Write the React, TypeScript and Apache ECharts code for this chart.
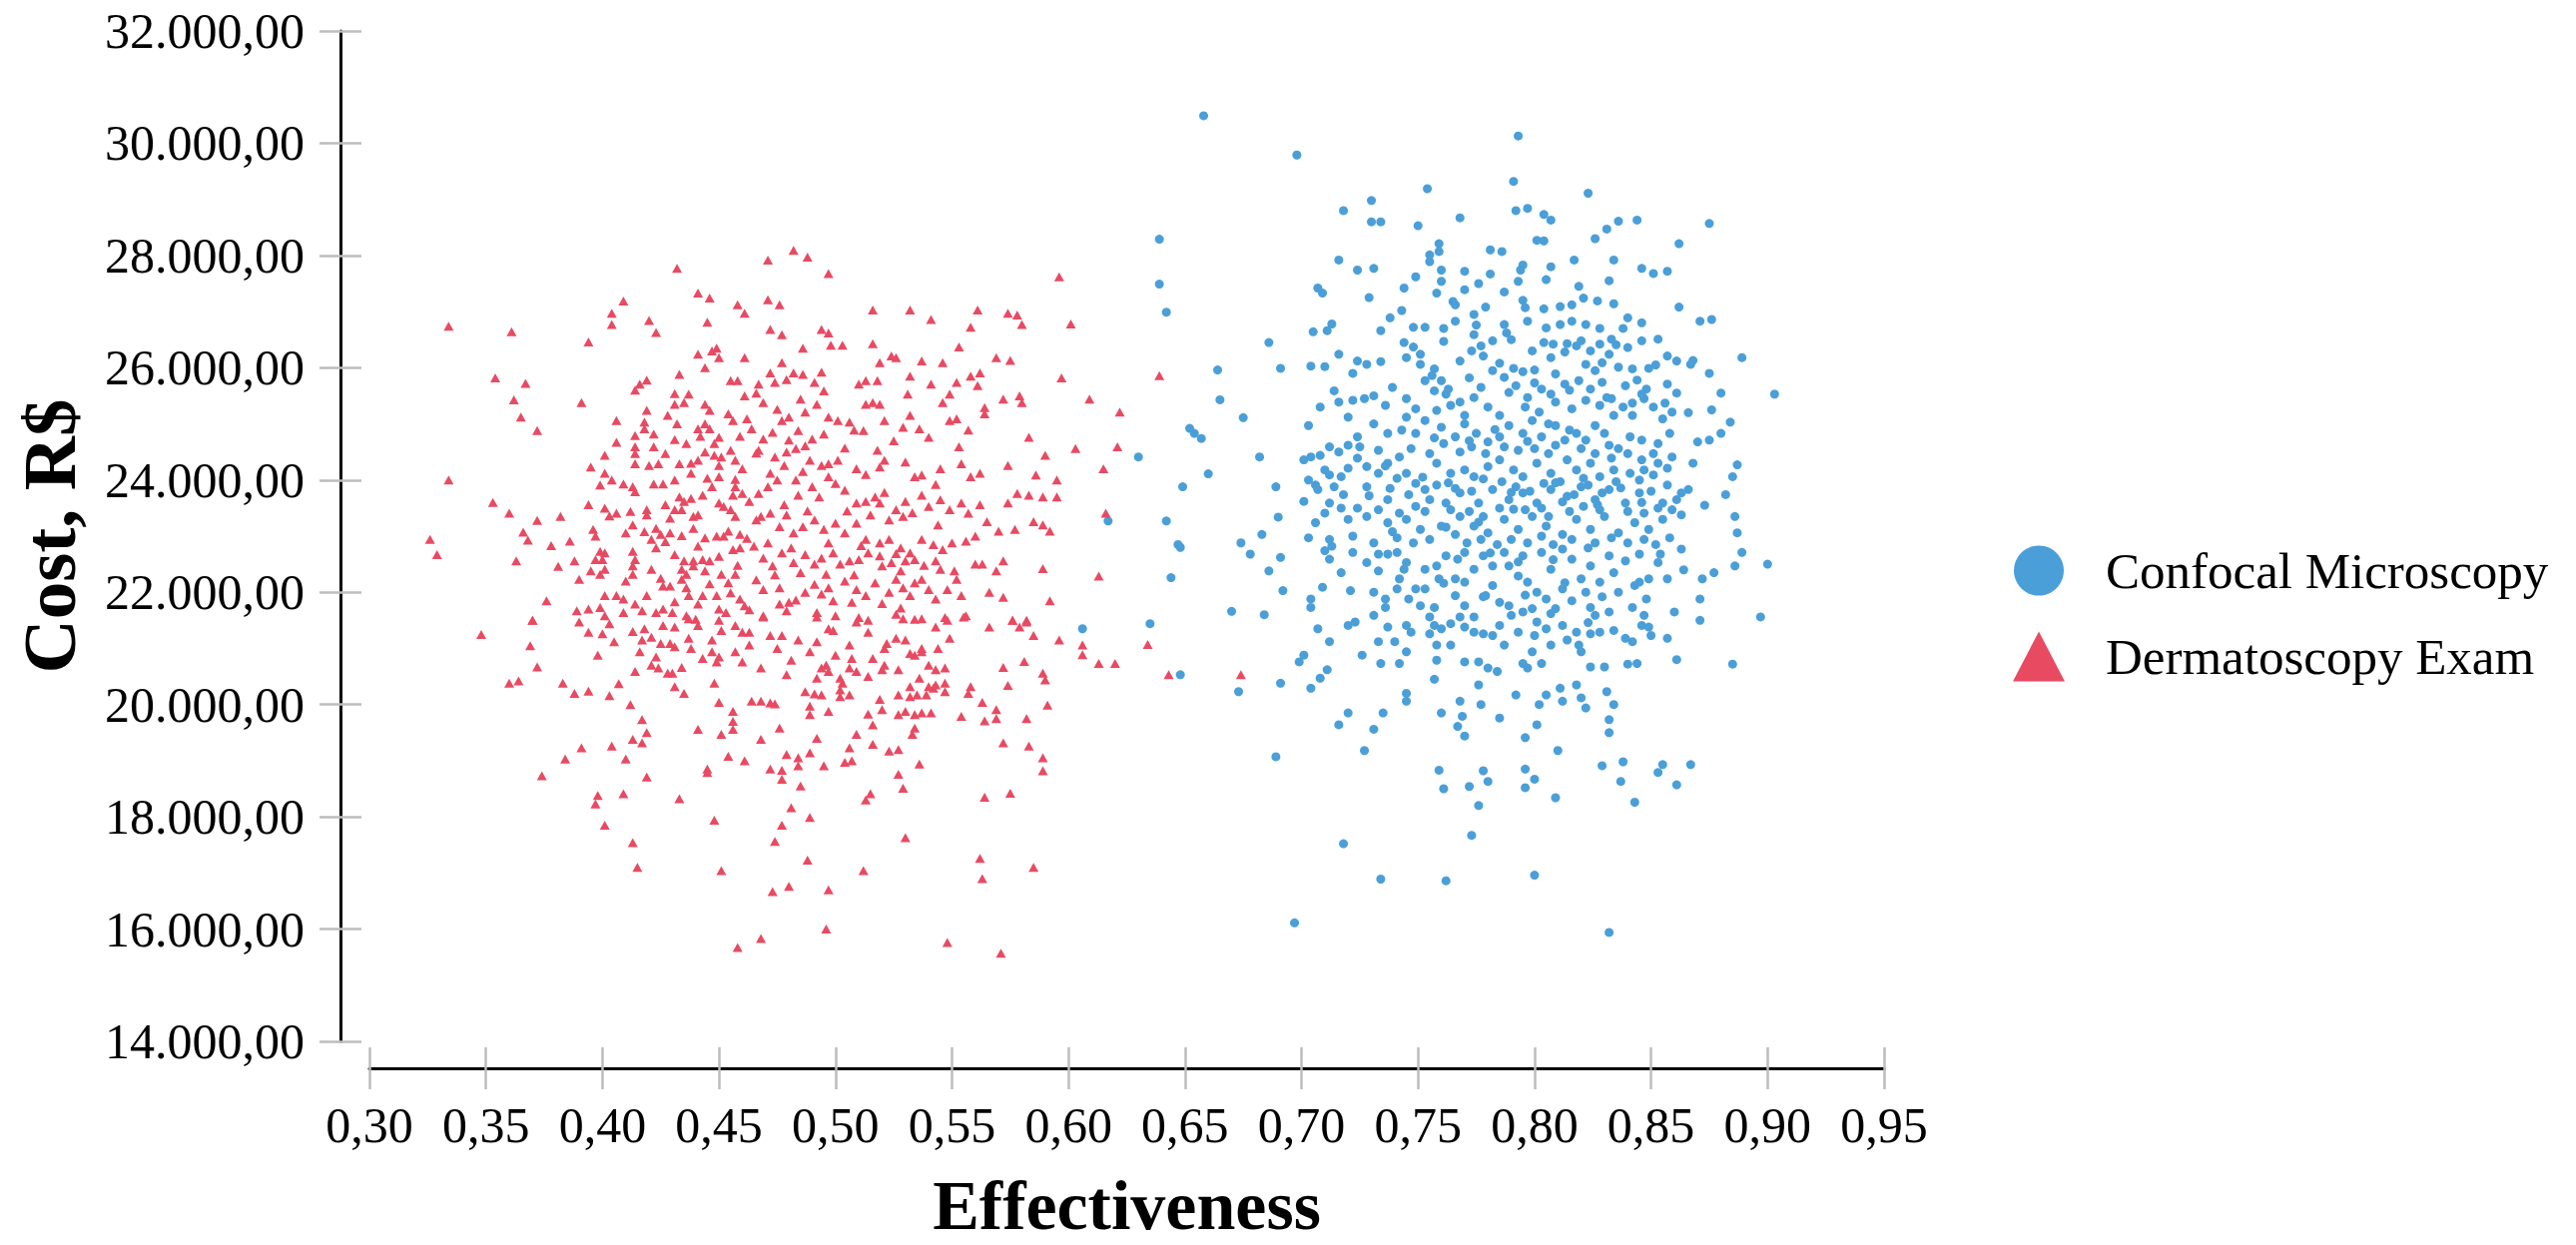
import React, { useEffect, useRef } from "react";
import * as echarts from "echarts";

// Effectiveness (x) and Cost in R$ (y).
const confocalUpper: number[][] = [
  [0.658,30490],[0.698,29790],[0.793,30130],[0.791,29320],[0.754,29190],[0.823,29110],[0.730,28980],[0.718,28800],[0.730,28600],[0.734,28600],[0.750,28530],[0.768,28670],[0.792,28800],[0.797,28840],[0.804,28730],[0.807,28630],[0.826,28300],[0.831,28470],[0.836,28610],[0.844,28630],[0.875,28570],[0.801,28270],[0.804,28260],[0.862,28210],[0.639,28290],[0.639,27490],[0.642,26990],[0.759,28210],[0.759,28070],[0.781,28100],[0.786,28070],[0.716,27920],[0.724,27740],[0.731,27770],[0.755,28010],[0.755,27890],[0.760,27740],[0.760,27540],[0.770,27720],[0.795,27830],[0.794,27740],[0.807,27800],[0.817,27920],[0.834,27920],[0.846,27770],[0.851,27680],[0.857,27720],[0.707,27420],[0.709,27330],[0.729,27250],[0.749,27620],[0.744,27420],[0.758,27330],[0.765,27180],[0.770,27390],[0.781,27670],[0.787,27350],[0.793,27540],[0.805,27570],[0.832,27550],[0.796,27070],[0.804,27050],[0.811,27090],[0.816,27120],[0.821,27240],[0.827,27190],[0.834,27140],[0.840,26890],[0.846,26800],[0.862,27080],[0.871,26830],[0.876,26860],[0.705,26640],[0.711,26660],[0.713,26780],[0.734,26660],[0.738,26890],[0.743,27020],[0.748,26720],[0.753,26720],[0.761,26700],[0.766,26830],[0.766,27120],[0.774,26950],[0.775,26760],[0.779,27080],[0.787,26770],[0.788,26620],[0.797,26830],[0.805,26710],[0.811,26770],[0.816,26830],[0.822,26770],[0.828,26700],[0.833,26510],[0.853,26510],[0.846,26480],[0.686,26450],[0.664,25960],[0.665,25430],[0.675,25110],[0.691,25990],[0.704,26030],[0.710,26020],[0.716,26240],[0.722,25900],[0.724,26120],[0.728,26060],[0.734,26110],[0.744,26450],[0.748,26370],[0.751,26240],[0.745,26180],[0.751,26060],[0.757,25980],[0.760,25770],[0.763,25620],[0.773,26300],[0.777,26390],[0.778,26210],[0.785,26080],[0.791,25990],[0.795,25930],[0.800,25960],[0.804,26450],[0.808,26420],[0.814,26430],[0.818,26390],[0.824,26300],[0.828,26420],[0.835,26410],[0.840,26360],[0.822,26060],[0.829,26090],[0.836,26010],[0.842,25980],[0.849,25990],[0.857,26210],[0.861,26120],[0.868,26130],[0.875,25900],[0.889,26180],[0.903,25530],[0.880,25550],[0.876,25250],[0.857,25710],[0.861,25550],[0.856,25370],[0.844,25780],[0.848,25620],[0.847,25450],[0.714,25590],[0.716,25390],[0.722,25420],[0.727,25450],[0.736,25330],[0.745,25120],[0.749,25270],[0.753,25770],[0.757,25590],[0.762,25530],[0.768,25390],[0.774,25470],[0.780,25300],[0.787,25830],[0.792,25680],[0.797,25470],[0.803,25620],[0.807,25530],[0.813,25710],[0.819,25770],[0.824,25620],[0.831,25470],[0.839,25680],[0.846,25530],[0.838,25300],[0.834,25150],[0.855,25090],[0.859,25210],[0.867,26060]
];

const confocalMiddle: number[][] = [
  [0.870,24680],[0.875,24710],[0.880,24830],[0.884,25030],[0.858,24830],[0.853,24650],[0.851,24470],[0.841,24770],[0.846,24710],[0.836,24560],[0.826,24970],[0.830,24830],[0.822,24710],[0.809,24970],[0.815,24890],[0.803,24770],[0.809,24620],[0.789,24970],[0.795,24830],[0.799,25060],[0.785,24770],[0.770,25000],[0.775,24830],[0.780,24680],[0.766,24770],[0.753,25060],[0.760,24940],[0.749,24830],[0.743,24890],[0.731,25000],[0.737,24830],[0.724,24770],[0.720,24620],[0.703,24970],[0.704,24410],[0.712,24590],[0.716,24500],[0.708,24440],[0.652,24920],[0.654,24830],[0.657,24740],[0.630,24410],[0.682,24410],[0.660,24110],[0.649,23880],[0.642,23270],[0.617,23270],[0.689,23880],[0.690,23340],[0.701,23620],[0.707,23830],[0.703,24000],[0.710,24180],[0.714,23880],[0.718,23740],[0.724,24390],[0.728,24240],[0.733,24120],[0.737,24300],[0.741,24030],[0.745,24120],[0.749,23940],[0.753,23830],[0.758,24300],[0.764,24120],[0.770,24180],[0.774,24060],[0.780,24240],[0.785,24360],[0.791,24180],[0.795,24060],[0.801,24300],[0.807,24120],[0.814,24360],[0.818,24180],[0.824,24300],[0.828,24060],[0.834,24180],[0.841,24120],[0.847,24180],[0.851,24090],[0.857,24210],[0.885,24060],[0.882,23740],[0.887,24270],[0.866,23830],[0.861,23650],[0.855,23590],[0.845,23770],[0.839,23590],[0.832,23830],[0.826,23650],[0.820,23880],[0.814,23710],[0.807,23830],[0.801,23590],[0.795,23770],[0.789,23650],[0.782,23830],[0.776,23590],[0.768,23770],[0.762,23590],[0.755,23650],[0.749,23530],[0.737,23650],[0.733,23470],[0.724,23500],[0.720,23300],[0.712,23590],[0.706,23240],[0.703,22970],[0.737,23240],[0.745,23300],[0.751,23120],[0.760,23180],[0.768,23350],[0.774,23180],[0.780,23060],[0.787,23300],[0.793,23120],[0.799,23350],[0.805,23180],[0.812,23030],[0.818,23300],[0.824,23120],[0.830,23350],[0.836,23060],[0.843,23240],[0.849,23120],[0.855,23300],[0.863,23380],[0.886,23350],[0.887,23060],[0.674,22880],[0.683,23030],[0.647,22850]
];

const confocalCore: number[][] = [
  [0.701,24360],[0.712,24090],[0.720,24210],[0.725,24590],[0.733,24530],[0.742,24410],[0.747,24560],[0.755,24470],[0.761,24650],[0.768,24500],[0.773,24590],[0.779,24470],[0.787,24590],[0.793,24530],[0.800,24560],[0.806,24470],[0.813,24710],[0.820,24560],[0.826,24470],[0.833,24390],[0.840,24470],[0.846,24360],[0.853,24300],[0.859,24410],
  [0.706,23910],[0.717,24060],[0.728,23880],[0.738,23850],[0.746,23740],[0.758,23910],[0.766,23850],[0.773,23800],[0.786,23970],[0.792,23880],[0.798,23800],[0.804,23940],[0.811,23970],[0.817,23740],[0.823,23910],[0.829,23770],[0.835,23970],[0.850,23800],[0.857,23910],[0.863,23770],
  [0.710,23410],[0.717,23500],[0.728,23350],[0.742,23410],[0.753,23440],[0.764,23470],[0.772,23440],[0.778,23350],[0.785,23500],[0.796,23470],[0.803,23500],[0.815,23440],[0.821,23530],[0.828,23470],[0.840,23440],[0.847,23410],[0.853,23500],[0.859,23470],
  [0.712,22940],[0.722,23000],[0.731,22880],[0.741,22970],[0.748,22880],[0.755,22940],[0.766,23030],[0.771,22880],[0.777,22940],[0.784,22850],[0.790,22940],[0.797,22880],[0.803,23000],[0.808,22850],[0.816,22940],[0.826,22880],[0.833,22970],[0.840,22880],[0.847,22940],[0.852,22850],[0.858,22970],
  [0.708,25300],[0.720,25120],[0.731,25500],[0.739,25650],[0.745,25450],[0.758,25240],[0.764,25330],[0.770,25150],[0.777,25650],[0.785,25150],[0.796,25300],[0.802,25210],[0.809,25390],[0.816,25270],[0.822,25420],[0.828,25330],[0.833,25450],[0.842,25150],[0.851,25300],
  [0.774,26590],[0.782,26480],[0.799,26300],[0.807,26180],[0.820,26480],[0.832,26240],[0.768,26120],[0.782,25950],[0.809,25890],[0.826,25950],
  [0.752,24050],[0.763,23950],[0.778,24020],[0.790,23780],[0.809,23950],[0.821,24030],[0.837,23860],[0.845,24000],[0.757,24750],[0.772,24700],[0.783,24900],[0.797,24690],[0.806,25000],[0.818,24830],[0.832,24620],[0.762,23160],[0.776,23250],[0.791,23480],[0.806,23350],[0.812,23610],[0.827,23560],[0.846,23600],[0.767,22590],[0.781,22700],[0.793,22540],[0.808,22580],[0.823,22790],[0.839,22560],[0.854,22680],[0.756,25860],[0.772,25820],[0.789,25560],[0.800,25730],[0.815,25600],[0.829,25740],[0.842,25370],[0.736,24250],[0.729,23720],[0.739,23080],[0.744,22410],[0.761,22160],[0.778,21920],[0.796,21950],[0.813,22170],[0.829,21920],[0.845,22180],[0.757,21730],[0.774,21560],[0.789,21760],[0.805,21350],[0.823,21460],[0.761,26470],[0.790,26500],[0.813,26280],[0.795,27200],[0.776,27500],[0.819,27450],[0.838,26700],[0.852,26050],[0.866,25200],[0.868,24300],[0.873,23550],[0.864,22400],[0.861,20800],[0.818,20350],[0.792,20170],[0.757,20450]
];

const confocalLower: number[][] = [
  [0.648,22800],[0.644,22260],[0.678,22680],[0.691,22620],[0.686,22380],[0.692,22030],[0.670,21660],[0.684,21600],[0.635,21440],[0.606,21350],[0.648,20530],[0.673,20230],[0.691,20380],[0.704,20290],[0.708,20470],[0.711,20620],[0.712,21120],[0.707,21350],[0.699,20760],[0.701,20880],[0.704,21880],[0.704,21730],[0.709,22090],[0.721,22030],[0.720,21410],[0.723,21470],[0.712,22590],[0.717,22350],[0.710,22740],[0.713,22820],[0.731,21590],[0.737,21380],[0.740,21120],[0.745,20940],[0.726,20880],[0.734,20730],[0.742,20730],[0.733,22380],[0.737,22680],[0.741,22710],[0.733,22680],[0.742,22240],[0.741,22060],[0.746,21880],[0.749,22060],[0.736,21880],[0.736,21730],[0.745,21410],[0.747,21290],[0.755,21560],[0.757,21410],[0.755,21260],[0.758,21060],[0.760,21350],[0.764,21440],[0.768,21560],[0.770,21380],[0.774,21290],[0.778,21260],[0.764,21060],[0.758,20790],[0.770,20760],[0.776,20760],[0.780,20650],[0.784,20590],[0.795,20730],[0.797,20650],[0.803,20730],[0.824,20670],[0.830,20670],[0.840,20720],[0.844,20730],[0.799,20940],[0.800,21230],[0.790,21590],[0.795,21650],[0.801,21470],[0.807,21620],[0.812,21410],[0.818,21290],[0.814,21150],[0.820,20940],[0.819,21060],[0.824,21260],[0.828,21290],[0.834,21320],[0.839,21180],[0.842,21120],[0.846,21410],[0.850,21230],[0.849,21380],[0.826,21590],[0.824,21730],[0.816,21850],[0.822,22000],[0.842,21730],[0.847,21590],[0.848,21880],[0.860,21650],[0.871,21500],[0.871,21880],[0.872,22240],[0.877,22350],[0.886,22470],[0.889,22710],[0.900,22500],[0.897,21560],[0.885,20720],[0.857,22240],[0.853,22530],[0.845,22680],[0.863,22770],[0.834,22350],[0.828,22180],[0.824,22470],[0.816,22590],[0.807,22410],[0.812,22060],[0.805,21880],[0.801,22000],[0.793,22290],[0.789,22470],[0.782,22120],[0.779,21940],[0.774,22410],[0.770,22180],[0.766,21940],[0.766,22240],[0.762,22650],[0.753,22410],[0.759,22240],[0.753,22060],[0.751,21760],[0.770,22710],[0.778,22650],[0.787,22710],[0.795,22650],[0.803,22710],[0.812,22770],[0.836,22000],[0.843,22120],[0.832,21650],[0.799,21710],[0.785,21410],[0.782,21230],[0.793,21290],[0.776,20350],[0.777,20000],[0.785,19760],[0.802,20000],[0.801,19640],[0.796,19410],[0.805,20170],[0.811,20290],[0.812,20060],[0.820,20120],[0.822,19940],[0.831,20230],[0.834,20000],[0.832,19730],[0.832,19500],[0.810,19180],[0.768,20060],[0.769,19790],[0.767,19610],[0.770,19440],[0.760,19850],[0.745,20200],[0.745,20060],[0.720,19850],[0.735,19850],[0.716,19640],[0.731,19560],[0.727,19180],[0.689,19070],[0.759,18830],[0.761,18500],[0.772,18540],[0.776,18200],[0.778,18820],[0.780,18630],[0.796,18850],[0.800,18670],[0.796,18520],[0.809,18340],[0.829,18910],[0.838,18980],[0.837,18630],[0.843,18260],[0.853,18790],[0.855,18930],[0.867,18930],[0.861,18570],[0.773,17670],[0.718,17520],[0.734,16890],[0.762,16860],[0.800,16960],[0.697,16110],[0.832,15940],
  [0.722,22710],[0.728,22530],[0.745,22530],[0.758,22470],[0.782,22470],[0.797,22180],[0.820,22240],[0.832,22650],[0.849,22240],[0.731,22000],[0.770,21760],[0.785,21820],[0.809,21710],[0.857,21180],[0.787,21060],[0.807,21060],[0.733,21120]
];

const dermatoscopyUpperLeft: number[][] = [
  [0.432,27770],[0.409,27190],[0.404,26970],[0.404,26770],[0.420,26840],[0.423,26630],[0.441,27330],[0.446,27240],[0.445,26810],[0.458,27120],[0.461,26970],[0.334,26740],[0.361,26640],[0.394,26460],[0.354,25820],[0.367,25720],[0.362,25430],[0.365,25120],[0.372,24880],[0.391,25380],[0.406,25060],[0.334,24000],[0.353,23600],[0.360,23410],[0.372,23280],[0.382,23350],[0.366,23070],[0.368,22930],[0.378,22830],[0.386,22910],[0.326,22940],[0.329,22670],[0.363,22560],[0.381,22460],[0.388,22560],[0.390,22230],[0.376,21850],[0.370,21500],
  [0.449,26350],[0.447,26300],[0.450,26180],[0.441,26240],[0.444,26000],[0.461,26180],[0.433,25880],[0.455,25770],[0.458,25770],[0.461,25500],[0.416,25710],[0.419,25780],[0.414,25600],[0.431,25540],[0.437,25530],[0.431,25350],[0.435,25380],[0.444,25350],[0.446,25240],[0.419,25240],[0.454,25180],[0.456,25060],[0.418,25030],[0.418,24910],[0.432,25000],[0.441,24910],[0.444,25000],[0.446,24910],[0.450,24760],[0.448,24650],[0.459,24780],[0.414,24790],[0.414,24590],[0.422,24820],[0.422,24590],[0.431,24720],[0.436,24650],[0.444,24500],[0.448,24440],[0.441,24350],[0.401,24440],[0.414,24470],[0.414,24290],[0.420,24260],[0.424,24290],[0.433,24290],[0.438,24300],[0.451,24410],[0.450,24260],[0.457,24350],[0.460,24200],[0.395,24230],[0.401,24120],[0.399,23910],[0.404,24000],[0.409,23930],[0.413,23880],[0.414,23790],[0.422,23930],[0.426,23930],[0.431,24000],[0.445,24030],[0.450,24060],[0.457,23880],[0.460,23760],[0.456,23730],[0.433,23700],[0.435,23620],[0.438,23670],[0.431,23470],[0.434,23470],[0.443,23730],[0.450,23590],[0.394,23560],[0.401,23500],[0.406,23410],[0.403,23360],[0.412,23440],[0.419,23470],[0.419,23380],[0.429,23320],[0.439,23350],[0.441,23380],[0.455,23470],[0.457,23350],[0.396,23120],[0.397,23000],[0.410,23060],[0.413,23200],[0.423,23140],[0.425,23030],[0.429,23060],[0.434,23010],[0.439,23140],[0.444,22970],[0.449,23000],[0.452,23000],[0.454,23090],[0.459,23030],[0.399,22730],[0.401,22700],[0.400,22580],[0.397,22580],[0.413,22730],[0.414,22580],[0.423,22790],[0.421,22940],[0.431,22670],[0.435,22560],[0.439,22560],[0.443,22580],[0.446,22560],[0.450,22640],[0.456,22760],[0.459,22790],[0.395,22380],[0.399,22320],[0.401,22410],[0.413,22470],[0.413,22320],[0.421,22410],[0.434,22410],[0.436,22320],[0.439,22470],[0.444,22380],[0.451,22320],[0.454,22170],[0.457,22320],[0.401,21940],[0.409,21880],[0.406,21940],[0.426,22110],[0.429,22110],[0.434,22230],[0.436,22080],[0.419,21940],[0.414,21790],[0.437,21940],[0.441,21790],[0.443,21940],[0.449,21940],[0.450,21700],[0.453,21640],[0.459,21880],[0.461,21760],[0.389,21670],[0.394,21700],[0.399,21730],[0.401,21580],[0.409,21640],[0.417,21670],[0.423,21640],[0.426,21700],[0.430,21640],[0.436,21580],[0.440,21520]
];

const dermatoscopyUpperRight: number[][] = [
  [0.471,27920],[0.482,28090],[0.488,27970],[0.497,27680],[0.596,27620],[0.471,27210],[0.476,27120],[0.516,27030],[0.532,27030],[0.541,26860],[0.561,27030],[0.574,26970],[0.578,26940],[0.580,26770],[0.601,26780],[0.472,26680],[0.477,26590],[0.494,26680],[0.497,26620],[0.498,26400],[0.503,26400],[0.486,26350],[0.516,26430],[0.558,26720],[0.553,26370],[0.524,26210],[0.526,26180],[0.519,26090],[0.537,26120],[0.546,26090],[0.569,26180],[0.575,26130],[0.597,25820],[0.477,26090],[0.472,25910],[0.482,25910],[0.486,25880],[0.467,25710],[0.474,25740],[0.479,25790],[0.491,25740],[0.495,25590],[0.510,25710],[0.513,25770],[0.518,25770],[0.532,25850],[0.541,25710],[0.549,25530],[0.552,25740],[0.558,25850],[0.562,25910],[0.561,25680],[0.572,25440],[0.579,25500],[0.580,25380],[0.609,25440],[0.622,25210],[0.469,25380],[0.475,25260],[0.477,25060],[0.480,25120],[0.485,25440],[0.487,25210],[0.497,25120],[0.501,25060],[0.506,25030],[0.508,24890],[0.512,24880],[0.513,25350],[0.516,25380],[0.519,25350],[0.529,24940],[0.532,25150],[0.536,24910],[0.540,24760],[0.546,25380],[0.549,25060],[0.552,25090],[0.557,24890],[0.564,25290],[0.564,25180],[0.583,24760],[0.464,24910],[0.469,24730],[0.473,24850],[0.480,24710],[0.484,24880],[0.490,24730],[0.495,24820],[0.467,24530],[0.474,24410],[0.479,24500],[0.483,24560],[0.489,24350],[0.494,24260],[0.497,24290],[0.501,24350],[0.509,24200],[0.518,24530],[0.521,24350],[0.519,24230],[0.530,24320],[0.534,24060],[0.537,24090],[0.553,24590],[0.554,24290],[0.558,24060],[0.562,24120],[0.574,24260],[0.590,24440],[0.603,24560],[0.621,24590],[0.615,24200],[0.586,24090],[0.595,24000],[0.578,23760],[0.583,23730],[0.589,23700],[0.595,23700],[0.574,23590],[0.616,23410],[0.472,24120],[0.475,24000],[0.471,23880],[0.467,23760],[0.483,24000],[0.490,23880],[0.484,23730],[0.497,24060],[0.500,23940],[0.504,23820],[0.509,23590],[0.513,23620],[0.517,23700],[0.519,23590],[0.526,23470],[0.529,23350],[0.523,23290],[0.530,23620],[0.537,23730],[0.540,23530],[0.545,23650],[0.549,23470],[0.554,23590],[0.557,23410],[0.562,23560],[0.565,23260],[0.570,23090],[0.577,23120],[0.585,23260],[0.589,23200],[0.592,23090],[0.466,23290],[0.472,23410],[0.476,23170],[0.479,23380],[0.482,23060],[0.486,23170],[0.491,23290],[0.495,23120],[0.500,23230],[0.504,23060],[0.509,23230],[0.513,22940],[0.519,22880],[0.523,22940],[0.528,22790],[0.532,22700],[0.537,22940],[0.542,22850],[0.546,22760],[0.550,22880],[0.556,22910],[0.560,23000],[0.465,22820],[0.469,22610],[0.473,22470],[0.477,22700],[0.482,22530],[0.487,22670],[0.491,22500],[0.494,22610],[0.499,22700],[0.502,22500],[0.506,22560],[0.510,22580],[0.514,22700],[0.520,22470],[0.524,22530],[0.528,22380],[0.530,22560],[0.534,22580],[0.543,22560],[0.545,22410],[0.560,22500],[0.563,22500],[0.569,22380],[0.572,22560],[0.589,22420],[0.613,22290],[0.469,22050],[0.476,22080],[0.480,21820],[0.476,21790],[0.487,22000],[0.491,22140],[0.494,21970],[0.499,21850],[0.504,22200],[0.509,22050],[0.513,21940],[0.517,22170],[0.523,22000],[0.526,22230],[0.529,22080],[0.532,21940],[0.534,22170],[0.537,22230],[0.543,21880],[0.548,22050],[0.552,22230],[0.554,21940],[0.566,22000],[0.572,21910],[0.592,21850],[0.469,21580],[0.479,21670],[0.492,21640],[0.500,21580],[0.510,21550],[0.526,21610],[0.534,21520],[0.547,21550],[0.556,21580],[0.576,21500],[0.582,21500],
  [0.634,21070],[0.643,20530],[0.674,20530],[0.639,25860]
];

const dermatoscopyCore: number[][] = [
  [0.427,24470],[0.438,24120],[0.447,23880],[0.452,23530],[0.463,23620],[0.468,23350],[0.478,23560],[0.488,23450],[0.493,23700],[0.505,23450],[0.515,23380],[0.521,23780],[0.533,23420],[0.544,23200],[0.427,22900],[0.441,22820],[0.462,22960],[0.471,22880],[0.481,22790],[0.497,22880],[0.511,22830],[0.526,22690],[0.538,22480],[0.551,22380],[0.425,22250],[0.446,22150],[0.458,22480],[0.466,22220],[0.474,22310],[0.485,22350],[0.496,22320],[0.508,22310],[0.519,22650],[0.540,22050],[0.431,21830],[0.455,21990],[0.463,21690],[0.483,21860],[0.497,22080],[0.507,21820],[0.520,21800],[0.528,21720],[0.442,24780],[0.455,24530],[0.466,24480],[0.478,24260],[0.487,24610],[0.504,24570],[0.513,24100],[0.525,24700],[0.428,25150],[0.462,25090],[0.492,25350],[0.521,25060],[0.545,24200],[0.457,24010],[0.486,24150],[0.543,23920],[0.410,22200],[0.418,23080],[0.406,24670],[0.427,23560],[0.466,25550],[0.494,25920],[0.531,25530]
];

const dermatoscopyLowerLeft: number[][] = [
  [0.348,21250],[0.370,21500],[0.369,21050],[0.372,20670],[0.360,20380],[0.364,20420],[0.383,20380],[0.388,20200],[0.394,20240],[0.403,20160],[0.407,20370],[0.390,21470],[0.394,21290],[0.400,21260],[0.405,21120],[0.403,21440],[0.398,20880],[0.413,21300],[0.418,21350],[0.421,21200],[0.417,21150],[0.416,20940],[0.425,21090],[0.429,21090],[0.431,21030],[0.423,20850],[0.421,20700],[0.424,20650],[0.414,20590],[0.428,20560],[0.430,20560],[0.434,20660],[0.431,20320],[0.435,20200],[0.437,21180],[0.438,21000],[0.443,20820],[0.447,20940],[0.449,20760],[0.450,20850],[0.447,21150],[0.451,21320],[0.457,20940],[0.460,20760],[0.441,21410],[0.437,21530],[0.450,21500],[0.460,21290],[0.457,21410],[0.426,21410],[0.431,21380],[0.448,20380],[0.450,20040],[0.456,19880],[0.456,19700],[0.456,19560],[0.451,19470],[0.441,19560],[0.454,19080],[0.461,19000],[0.445,18850],[0.445,18790],[0.412,20000],[0.417,19730],[0.419,19500],[0.417,19320],[0.413,19380],[0.391,19230],[0.404,19260],[0.384,19030],[0.410,19030],[0.374,18730],[0.419,18710],[0.398,18380],[0.397,18230],[0.409,18410],[0.433,18320],[0.401,17850],[0.448,17940],[0.413,17540],[0.415,17100],[0.451,17040],[0.458,15670]
];

const dermatoscopyLowerRight: number[][] = [
  [0.606,21060],[0.606,20890],[0.613,20730],[0.620,20730],[0.596,21150],[0.581,20770],[0.572,20660],[0.589,20560],[0.590,20440],[0.574,20340],[0.591,19990],[0.582,19750],[0.583,19260],[0.589,19050],[0.589,18820],[0.572,19320],[0.564,19710],[0.569,19750],[0.569,19910],[0.563,20040],[0.554,19790],[0.558,20320],[0.557,20200],[0.564,18350],[0.575,18420],[0.562,17260],[0.563,16900],[0.585,17100],[0.548,15760],[0.571,15570],[0.536,18940],[0.527,18760],[0.529,18510],[0.530,17630],[0.512,17040],[0.515,18410],[0.513,18300],[0.496,16000],[0.468,15830],[0.497,16700],[0.488,17230],[0.473,16670],[0.480,16760],[0.474,17560],[0.477,17850],[0.489,17990],[0.481,18160],[0.485,18550],[0.472,18850],[0.477,18830],[0.477,18670],[0.468,19380],[0.476,19580],[0.492,19400],[0.479,19110],[0.484,19050],[0.484,18910],[0.489,19140],[0.495,18910],[0.504,18970],[0.507,19000],[0.506,19230],[0.516,19290],[0.523,19170],[0.527,19200],[0.509,19470],[0.516,19640],[0.533,19470],[0.534,19580],[0.497,19880],[0.489,19820],[0.489,19970],[0.468,20060],[0.464,20060],[0.472,20030],[0.474,20010],[0.487,20230],[0.491,20190],[0.494,20170],[0.502,20260],[0.506,20170],[0.502,20140],[0.514,19830],[0.520,19910],[0.519,20090],[0.527,20170],[0.532,20140],[0.535,20170],[0.539,20170],[0.542,20290],[0.547,20230],[0.527,19820],[0.530,19880],[0.534,19820],[0.537,19850],[0.541,19850],[0.532,20320],[0.536,20470],[0.540,20320],[0.543,20350],[0.547,20380],[0.468,20650],[0.479,20530],[0.492,20470],[0.497,20590],[0.503,20380],[0.502,20470],[0.506,20650],[0.509,20590],[0.514,20500],[0.520,20620],[0.527,20620],[0.534,20880],[0.537,20940],[0.540,20700],[0.543,20620],[0.547,20650],[0.472,21230],[0.477,21230],[0.475,21000],[0.481,20790],[0.484,21150],[0.489,20940],[0.492,21120],[0.494,20650],[0.496,20700],[0.500,20880],[0.497,21350],[0.499,21320],[0.506,21060],[0.507,20820],[0.514,21290],[0.516,20820],[0.521,20700],[0.522,21090],[0.526,21180],[0.530,21150],[0.521,21000],[0.532,20910],[0.537,21000],[0.544,21000],[0.549,21180],[0.509,21470],[0.514,21500],[0.529,21530],[0.537,21530],[0.543,21380],[0.548,21500],[0.566,21380],[0.576,21500],[0.579,21380],[0.582,21470],[0.585,21230],[0.555,21560],[0.492,21560],[0.469,21560],[0.463,21060],[0.463,21290]
];

const seriesNames = ["Confocal Microscopy", "Dermatoscopy Exam"];
const effTicks = { min: 0.3, max: 0.95, step: 0.05 };
const costTicks = { min: 14000, max: 32000, step: 2000 };

const FONT = '"Liberation Serif", "Times New Roman", serif';
const BLUE = "#4b9fd8";
const RED = "#e84a62";

const fmtEff = (v: number) => v.toFixed(2).replace(".", ",");
const fmtCost = (v: number) =>
  Math.round(v).toString().replace(/\B(?=(\d{3})+(?!\d))/g, ".") + ",00";

export default function App() {
  const ref = useRef<HTMLDivElement>(null);

  useEffect(() => {
    if (!ref.current) return;
    const chart = echarts.init(ref.current, undefined, { renderer: "svg" });

    const tickStyle = { color: "#bdbdbd", width: 2.5 };
    const baseX = {
      type: "value",
      min: effTicks.min,
      max: effTicks.max,
      interval: effTicks.step,
      position: "bottom",
      offset: 27,
      splitLine: { show: false },
    };
    const baseY = {
      type: "value",
      min: costTicks.min,
      max: costTicks.max,
      interval: costTicks.step,
      position: "left",
      offset: 29,
      splitLine: { show: false },
    };

    chart.setOption({
      animation: false,
      backgroundColor: "#ffffff",
      textStyle: { fontFamily: FONT },
      grid: { left: 370, right: 693, top: 31, bottom: 198, containLabel: false },
      legend: {
        orient: "vertical",
        left: 2011,
        top: 541,
        itemWidth: 52,
        itemHeight: 50,
        itemGap: 35,
        selectedMode: false,
        textStyle: {
          fontSize: 51,
          lineHeight: 50,
          color: "#000",
          fontFamily: FONT,
          padding: [0, 0, 0, 36],
        },
        data: [
          { name: seriesNames[0], icon: "circle" },
          { name: seriesNames[1], icon: "triangle" },
        ],
      },
      xAxis: [
        {
          ...baseX,
          name: "Effectiveness",
          nameLocation: "middle",
          nameGap: 102,
          nameTextStyle: { fontSize: 70, fontWeight: "bold", color: "#000", fontFamily: FONT },
          axisLine: { show: true, lineStyle: { color: "#000", width: 3 } },
          axisTick: { show: true, inside: false, length: 21, lineStyle: tickStyle },
          axisLabel: { show: true, formatter: fmtEff, fontSize: 50, color: "#000", fontFamily: FONT, margin: 32 },
        },
        {
          ...baseX,
          axisLine: { show: false },
          axisTick: { show: true, inside: true, length: 21, lineStyle: tickStyle },
          axisLabel: { show: false },
        },
      ],
      yAxis: [
        {
          ...baseY,
          name: "Cost, R$",
          nameLocation: "middle",
          nameRotate: 90,
          nameGap: 254,
          nameTextStyle: { fontSize: 75, fontWeight: "bold", color: "#000", fontFamily: FONT },
          axisLine: { show: true, lineStyle: { color: "#000", width: 3 } },
          axisTick: { show: true, inside: false, length: 21, lineStyle: tickStyle },
          axisLabel: { show: true, formatter: fmtCost, fontSize: 50, color: "#000", fontFamily: FONT, margin: 36 },
        },
        {
          ...baseY,
          axisLine: { show: false },
          axisTick: { show: true, inside: true, length: 21, lineStyle: tickStyle },
          axisLabel: { show: false },
        },
      ],
      series: [
        {
          name: seriesNames[0],
          type: "scatter",
          xAxisIndex: 0,
          yAxisIndex: 0,
          symbol: "circle",
          symbolSize: 9,
          itemStyle: { color: BLUE, opacity: 1 },
          data: [...confocalUpper, ...confocalMiddle, ...confocalCore, ...confocalLower],
        },
        {
          name: seriesNames[1],
          type: "scatter",
          xAxisIndex: 0,
          yAxisIndex: 0,
          symbol: "triangle",
          symbolSize: [10, 9],
          itemStyle: { color: RED, opacity: 1 },
          data: [
            ...dermatoscopyUpperLeft,
            ...dermatoscopyUpperRight,
            ...dermatoscopyCore,
            ...dermatoscopyLowerLeft,
            ...dermatoscopyLowerRight,
          ],
        },
      ],
    });

    return () => chart.dispose();
  }, []);

  return (
    <div
      ref={ref}
      style={{ position: "absolute", left: 0, top: 0, width: 2580, height: 1247, background: "#fff" }}
    />
  );
}
